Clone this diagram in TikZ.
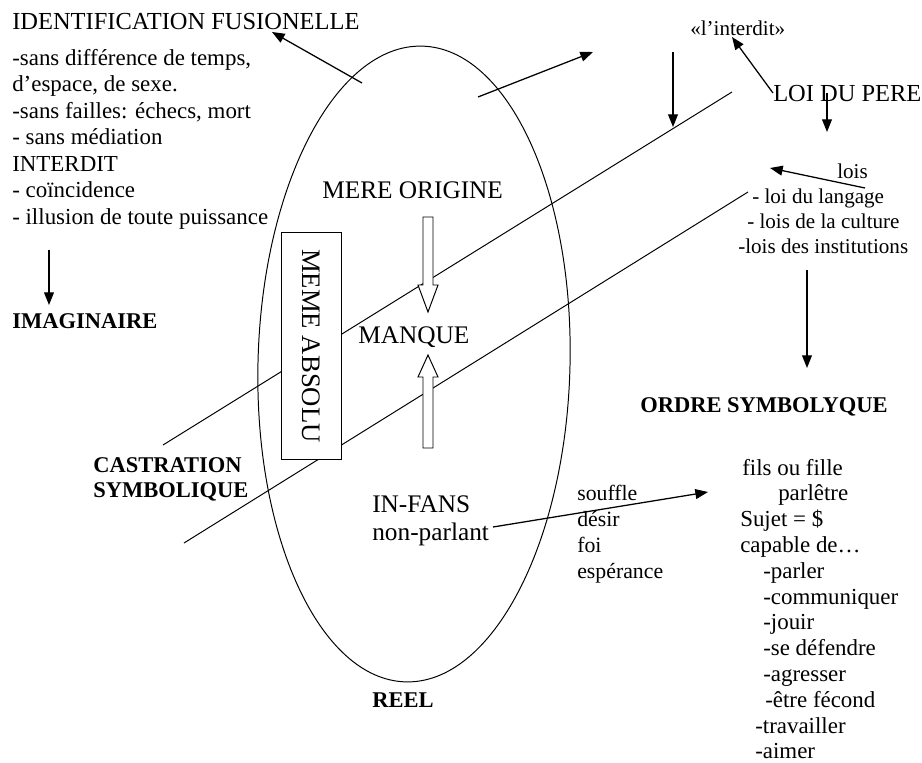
\documentclass[tikz,border=0pt]{standalone}
\usepackage{fontspec}
\setmainfont{Liberation Serif}
\usetikzlibrary{arrows.meta}
\tikzstyle{txt}=[inner sep=0pt, anchor=base west, font=\fontsize{16.3}{19}\selectfont]
\tikzstyle{big}=[txt, font=\fontsize{18}{21}\selectfont]
\tikzstyle{caps}=[txt, font=\fontsize{17.4}{20}\selectfont]
\tikzstyle{small}=[txt, font=\fontsize{15}{18}\selectfont]
\tikzstyle{heavy}=[txt, font=\fontsize{16}{19}\selectfont\bfseries]
\tikzstyle{arr}=[-{Triangle[length=9pt,width=7pt]}, line width=0.9pt]
\tikzstyle{trait}=[line width=0.7pt]

\begin{document}
\begin{tikzpicture}[x=0.025cm, y=-0.025cm]
\useasboundingbox (0,0) rectangle (922,763);
% le reel
\draw[trait, rotate around={-1.5:(414,364)}] (414,364) ellipse [x radius=156, y radius=318];
% castration symbolique
\coordinate (c1a) at (163,445);
\coordinate (c1b) at (732,92);
\coordinate (c2a) at (184,543);
\coordinate (c2b) at (748,192);
\draw[trait] (c1a) -- (c1b);
\draw[trait] (c2a) -- (c2b);
\node[draw, trait, fill=white, rotate=-90, inner sep=0pt, minimum width=160.8pt, minimum height=42pt, font=\fontsize{19}{22}\selectfont] (absolu) at (311.5,346) {MEME ABSOLU};
% fleches creuses
\draw[trait, fill=white] (423,217) -- (433,217) -- (433,285) -- (438,285) -- (428,312) -- (418,285) -- (423,285) -- cycle;
\draw[trait, fill=white] (423,448) -- (433,448) -- (433,377) -- (438,377) -- (428,355) -- (418,377) -- (423,377) -- cycle;

% imaginaire
\node[caps] (fusion) at (12,29) {IDENTIFICATION FUSIONELLE};
\foreach \ligne [count=\i from 0] in {{-sans différence de temps,}, {d’espace, de sexe.}, {-sans failles: échecs, mort}, {- sans médiation}, {INTERDIT}, {- coïncidence}, {- illusion de toute puissance}}
  \node[txt] (g\i) at (12,65+26.5*\i) {\ligne};
\node[heavy] (imag) at (12,328) {IMAGINAIRE};
\node[heavy] (castr) at (93,472) {CASTRATION};
\node[heavy] (symb) at (93,497) {SYMBOLIQUE};

% dans l'ellipse
\node[big] (mere) at (322,198) {MERE ORIGINE};
\node[big] (manque) at (358,343) {MANQUE};
\node[big] (infans) at (372,512) {IN-FANS};
\node[big] (nonparl) at (372,540) {non-parlant};
\node[heavy] (reel) at (372,707) {REEL};
\foreach \ligne [count=\i from 0] in {souffle, désir, foi, espérance}
  \node[txt, font=\fontsize{15.5}{18}\selectfont] (d\i) at (577,500+26*\i) {\ligne};

% symbolique
\node[small] (interdit) at (690,35) {«l’interdit»};
\node[caps] (loi) at (773,101) {LOI DU PERE};
\node[small] (lois) at (837,178) {lois};
\node[small] (lang) at (752,203) {- loi du langage};
\node[small] (cult) at (747,228) {- lois de la culture};
\node[small] (inst) at (738,253) {-lois des institutions};
\node[heavy] (ordre) at (640,412) {ORDRE SYMBOLYQUE};
\foreach \dx/\ligne [count=\i from 0] in {742/{fils ou fille}, 778/parlêtre, 740/{Sujet = \$}, 740/{capable de…}, 763/-parler, 763/-communiquer, 763/-jouir, 763/{-se défendre}, 763/-agresser, 765/{-être fécond}, 755/-travailler, 755/-aimer}
  \node[txt] (s\i) at (\dx,475+25.8*\i) {\ligne};

% fleches
\coordinate (f0) at (362,83);
\coordinate (f1) at (272,32);
\coordinate (o0) at (478,97);
\coordinate (o1) at (593,52);
\coordinate (v0) at (673,52);
\coordinate (v1) at (673,127);
\coordinate (t1) at (732,37);
\coordinate (p0) at (827,93);
\coordinate (p1) at (827,132);
\coordinate (l0) at (865,188);
\coordinate (l1) at (770,168);
\coordinate (r0) at (807,270);
\coordinate (r1) at (807,368);
\coordinate (i0) at (49,250);
\coordinate (i1) at (49,305);
\coordinate (n0) at (493,527);
\coordinate (n1) at (708,492);
\draw[arr] (f0) -- (f1);
\draw[arr] (o0) -- (o1);
\draw[arr] (v0) -- (v1);
\draw[arr] (loi.west) -- (t1);
\draw[arr] (p0) -- (p1);
\draw[arr] (l0) -- (l1);
\draw[arr] (r0) -- (r1);
\draw[arr] (i0) -- (i1);
\draw[arr] (n0) -- (n1);
\end{tikzpicture}
\end{document}
